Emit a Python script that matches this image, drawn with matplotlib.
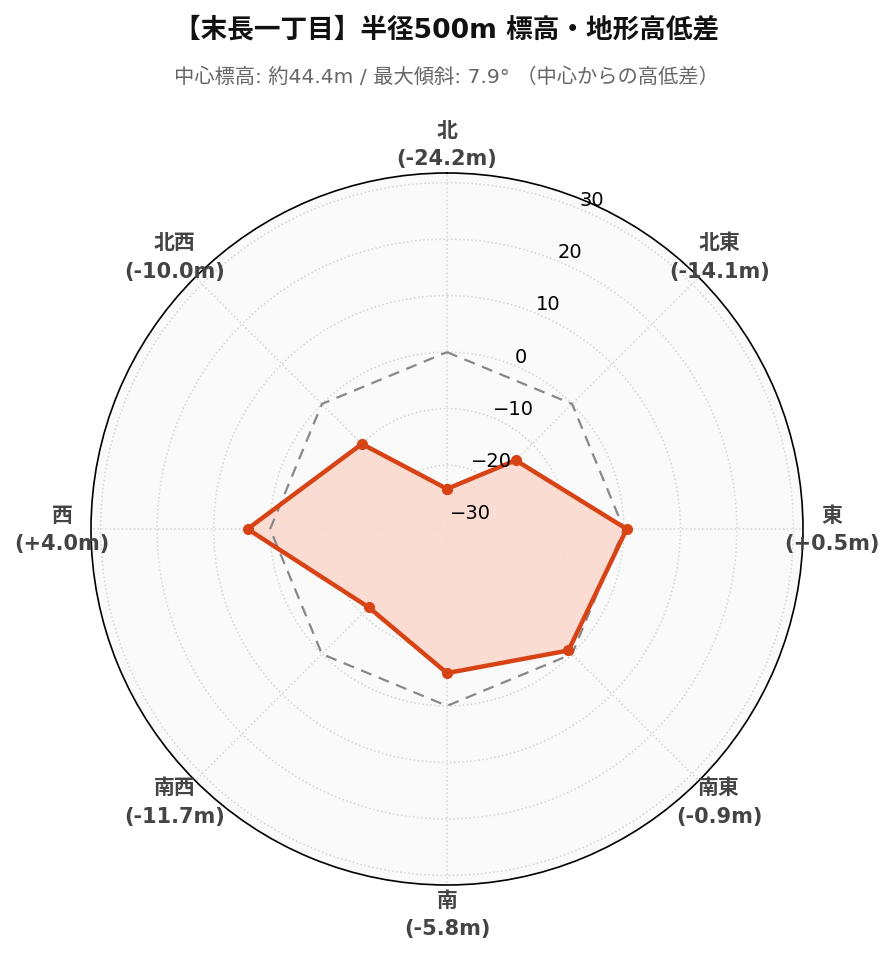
import numpy as np
import matplotlib.pyplot as plt

# データ
directions = ["北", "北東", "東", "南東", "南", "南西", "西", "北西"]
diffs = [-24.2, -14.1, 0.5, -0.9, -5.8, -11.7, 4.0, -10.0]
rticks = [-30, -20, -10, 0, 10, 20, 30]
title = "【末長一丁目】半径500m 標高・地形高低差"
subtitle = "中心標高: 約44.4m / 最大傾斜: 7.9° （中心からの高低差）"

plt.rcParams['font.family'] = ['DejaVu Sans', 'Noto Sans CJK JP']

def main():
    r_min, r_max = -31.3, 31.7
    theta = np.deg2rad(np.arange(len(directions)) * 45.0)
    th_closed = np.append(theta, theta[0])
    v_closed = np.append(diffs, diffs[0])

    fig = plt.figure(figsize=(8.93, 9.62), dpi=100)
    ax = fig.add_axes([91/893, 76/962, 712/893, 712/962], projection='polar')
    ax.set_theta_zero_location('N')
    ax.set_theta_direction(-1)
    ax.set_facecolor('#fafafa')
    ax.set_ylim(r_min, r_max)

    # グリッド
    ax.set_xticks(theta)
    ax.set_xticklabels([])
    ax.set_yticks(rticks)
    ax.set_yticklabels([])
    ax.grid(True, color='#d6d6d6', linestyle=':', linewidth=1.1)
    ax.spines['polar'].set_color('black')
    ax.spines['polar'].set_linewidth(1.2)

    # 基準線(0m)
    ax.plot(th_closed, np.zeros_like(th_closed), color='#888888', lw=1.6,
            ls=(0, (5, 3.5)), zorder=3)

    # 高低差
    ax.fill(th_closed, v_closed, color='#fcd9cf', alpha=0.9, zorder=2, lw=0)
    ax.plot(th_closed, v_closed, color='#d84315', lw=3.2, marker='o', ms=7,
            zorder=4)

    # 半径目盛り
    for t in rticks:
        ax.text(np.deg2rad(22.5), t, str(t).replace('-', '\u2212'),
                ha='left', va='bottom', fontsize=14, color='black',
                clip_on=False, zorder=5)

    # 方位ラベル
    r_lab = r_max + 29 / 5.66
    for th, d, v in zip(theta, directions, diffs):
        ax.text(th, r_lab, f"{d}\n({v:+.1f}m)", ha='center', va='center',
                fontsize=15, fontweight='bold', color='#444444',
                linespacing=1.55, clip_on=False)

    fig.text(0.5, 1 - 30/962, title, ha='center', va='center',
             fontsize=19.2, fontweight='bold', color='#111111')
    fig.text(0.5, 1 - 77/962, subtitle, ha='center', va='center',
             fontsize=14.6, color='#666666')

    fig.savefig("out.png", dpi=100)

if __name__ == "__main__":
    main()
